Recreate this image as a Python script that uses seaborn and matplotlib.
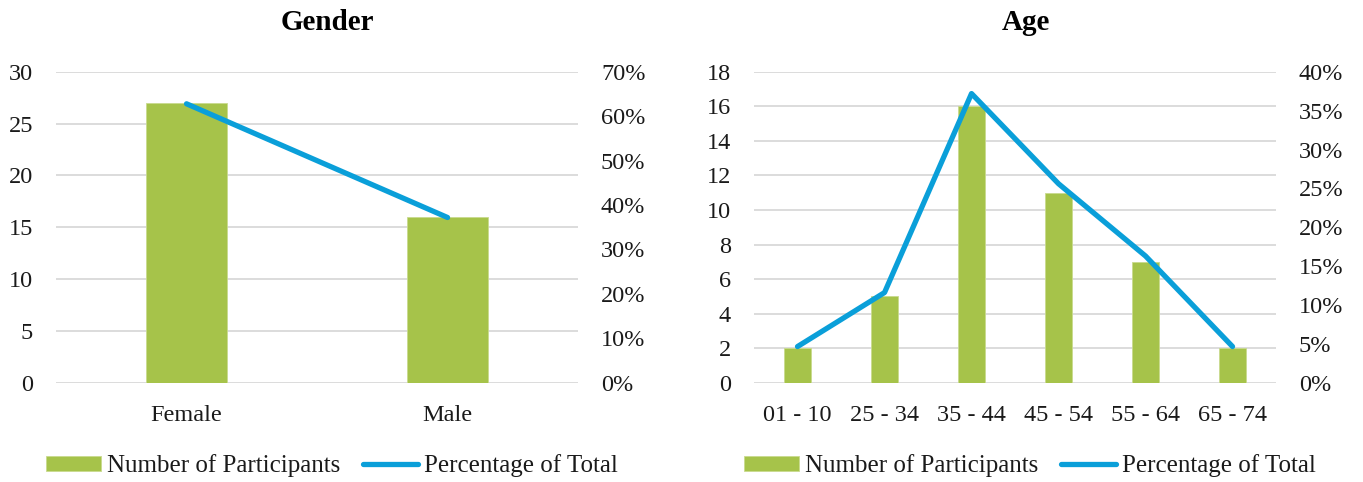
import matplotlib
matplotlib.use('Agg')
import matplotlib.pyplot as plt
import seaborn as sns
from matplotlib.ticker import PercentFormatter, MultipleLocator

# dados
generos = ['Female', 'Male']
participantes_genero = [27, 16]
perc_genero = [0.628, 0.372]

faixas_idade = ['01 - 10', '25 - 34', '35 - 44', '45 - 54', '55 - 64', '65 - 74']
participantes_idade = [2, 5, 16, 11, 7, 2]
perc_idade = [0.0465, 0.116, 0.372, 0.256, 0.163, 0.0465]

verde = '#A6C34A'
azul = '#0A9FD9'
cinza_grade = '#D9D9D9'
cor_texto = '#1A1A1A'

sns.set_style('white')
plt.rcParams['font.family'] = ['Liberation Serif', 'DejaVu Serif']

fs = 17.5


def plot_combo(ax, cats, contagens, percs, titulo, ymax, ystep, pmax, pstep):
    sns.barplot(x=cats, y=contagens, ax=ax, color=verde, saturation=1,
                width=0.31, edgecolor='#C9DB8E', linewidth=0.6)
    ax.set_ylim(0, ymax)
    ax.yaxis.set_major_locator(MultipleLocator(ystep))
    ax.yaxis.grid(True, color=cinza_grade, lw=1.3)
    ax.xaxis.grid(False)
    ax.set_axisbelow(True)

    ax2 = ax.twinx()
    sns.pointplot(x=cats, y=percs, ax=ax2, color=azul, markers='',
                  linewidth=3.8, errorbar=None, solid_capstyle='round')
    ax2.set_ylim(0, pmax)
    ax2.yaxis.set_major_locator(MultipleLocator(pstep))
    ax2.yaxis.set_major_formatter(PercentFormatter(1.0, decimals=0))
    ax2.grid(False)
    if ax2.get_legend() is not None:
        ax2.get_legend().remove()
    ax.set_xlim(-0.5, len(cats) - 0.5)

    for a in (ax, ax2):
        for s in a.spines.values():
            s.set_visible(False)
        a.tick_params(length=0, labelsize=fs, colors=cor_texto)
        a.set_xlabel('')
        a.set_ylabel('')
    ax.tick_params(axis='y', pad=16.5)
    ax2.tick_params(axis='y', pad=16.5)
    ax.tick_params(axis='x', pad=16)

    ax.set_title(titulo, fontsize=21, fontweight='bold', color='black',
                 pad=30, x=0.52)

    handles = [ax.patches[0], ax2.lines[0]]
    labels = ['Number of Participants', 'Percentage of Total']
    ax.legend(handles, labels, loc='center', bbox_to_anchor=(0.528, -0.266),
              ncol=2, frameon=False, fontsize=18, handlelength=2.2,
              handleheight=0.55, handletextpad=0.25, columnspacing=0.9,
              labelcolor=cor_texto)


fig = plt.figure(figsize=(13.63, 4.82), dpi=100)
ax_gen = fig.add_axes([0.0411, 0.206, 0.383, 0.645])
ax_age = fig.add_axes([0.5532, 0.206, 0.383, 0.645])

plot_combo(ax_gen, generos, participantes_genero, perc_genero, 'Gender', 30, 5, 0.7, 0.1)
plot_combo(ax_age, faixas_idade, participantes_idade, perc_idade, 'Age', 18, 2, 0.4, 0.05)

plt.savefig('out.png', dpi=100)
